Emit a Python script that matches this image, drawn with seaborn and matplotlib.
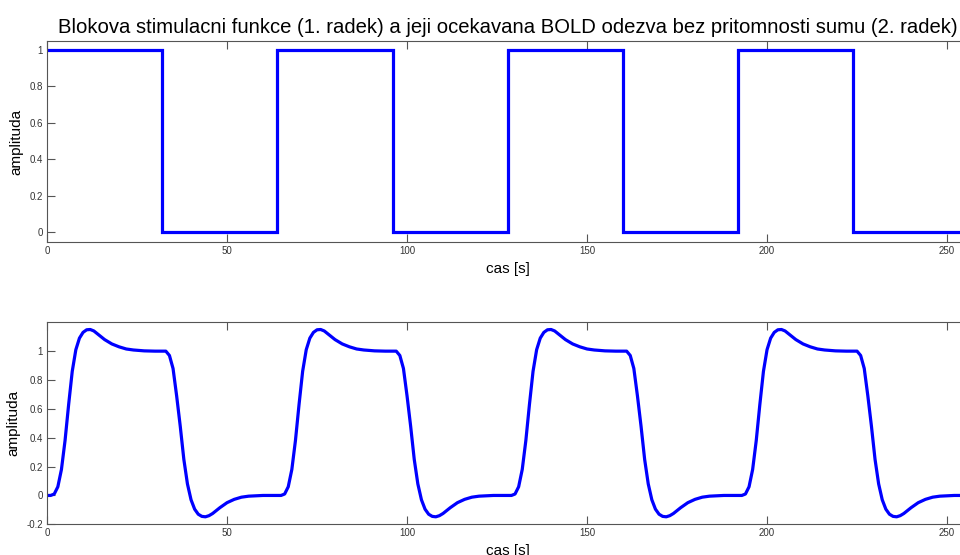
import numpy as np
import pandas as pd
import seaborn as sns
from matplotlib import pyplot as plt
from matplotlib.ticker import FuncFormatter

# block stimulus: level held from each onset time until the next one
block_times = [0, 32, 64, 96, 128, 160, 192, 224, 256]
block_levels = [1, 0, 1, 0, 1, 0, 1, 0, 0]

# expected BOLD response (4 identical cycles of 64 s)
bold_t = [
    0, 1, 2, 3, 4, 5, 6, 7, 8, 9, 10, 11, 12, 13, 14, 15, 16, 18, 20, 22, 24, 27, 30, 33,
    34, 35, 36, 37, 38, 39, 40, 41, 42, 43, 44, 45, 46, 47, 48, 50, 52, 54, 56, 60,
    64, 65, 66, 67, 68, 69, 70, 71, 72, 73, 74, 75, 76, 77, 78, 79, 80, 82, 84, 86, 88, 91, 94, 97,
    98, 99, 100, 101, 102, 103, 104, 105, 106, 107, 108, 109, 110, 111, 112, 114, 116, 118, 120, 124,
    128, 129, 130, 131, 132, 133, 134, 135, 136, 137, 138, 139, 140, 141, 142, 143, 144, 146, 148, 150, 152, 155, 158, 161,
    162, 163, 164, 165, 166, 167, 168, 169, 170, 171, 172, 173, 174, 175, 176, 178, 180, 182, 184, 188,
    192, 193, 194, 195, 196, 197, 198, 199, 200, 201, 202, 203, 204, 205, 206, 207, 208, 210, 212, 214, 216, 219, 222, 225,
    226, 227, 228, 229, 230, 231, 232, 233, 234, 235, 236, 237, 238, 239, 240, 242, 244, 246, 248, 252, 256,
]
bold_y = [
    0.0, 0.0, 0.01, 0.06, 0.18, 0.38, 0.63, 0.86, 1.01, 1.09, 1.13, 1.148, 1.15, 1.14, 1.12, 1.1, 1.08, 1.05, 1.03, 1.015, 1.008, 1.002, 1.0, 1.0,
    0.97, 0.88, 0.69, 0.48, 0.25, 0.08, -0.03, -0.095, -0.13, -0.145, -0.148, -0.14, -0.125, -0.105, -0.085, -0.05, -0.027, -0.012, -0.005, 0.0,
    0.0, 0.0, 0.01, 0.06, 0.18, 0.38, 0.63, 0.86, 1.01, 1.09, 1.13, 1.148, 1.15, 1.14, 1.12, 1.1, 1.08, 1.05, 1.03, 1.015, 1.008, 1.002, 1.0, 1.0,
    0.97, 0.88, 0.69, 0.48, 0.25, 0.08, -0.03, -0.095, -0.13, -0.145, -0.148, -0.14, -0.125, -0.105, -0.085, -0.05, -0.027, -0.012, -0.005, 0.0,
    0.0, 0.0, 0.01, 0.06, 0.18, 0.38, 0.63, 0.86, 1.01, 1.09, 1.13, 1.148, 1.15, 1.14, 1.12, 1.1, 1.08, 1.05, 1.03, 1.015, 1.008, 1.002, 1.0, 1.0,
    0.97, 0.88, 0.69, 0.48, 0.25, 0.08, -0.03, -0.095, -0.13, -0.145, -0.148, -0.14, -0.125, -0.105, -0.085, -0.05, -0.027, -0.012, -0.005, 0.0,
    0.0, 0.0, 0.01, 0.06, 0.18, 0.38, 0.63, 0.86, 1.01, 1.09, 1.13, 1.148, 1.15, 1.14, 1.12, 1.1, 1.08, 1.05, 1.03, 1.015, 1.008, 1.002, 1.0, 1.0,
    0.97, 0.88, 0.69, 0.48, 0.25, 0.08, -0.03, -0.095, -0.13, -0.145, -0.148, -0.14, -0.125, -0.105, -0.085, -0.05, -0.027, -0.012, -0.005, 0.0, 0.0,
]

x_ticks = [0, 50, 100, 150, 200, 250]
top_y_ticks = [0, 0.2, 0.4, 0.6, 0.8, 1]
bottom_y_ticks = [-0.2, 0, 0.2, 0.4, 0.6, 0.8, 1]

title = "Blokova stimulacni funkce (1. radek) a jeji ocekavana BOLD odezva bez pritomnosti sumu (2. radek)"

sns.set_theme(style="ticks")
plt.rcParams["font.family"] = ["Liberation Sans", "DejaVu Sans"]
plt.rcParams["xtick.direction"] = "in"
plt.rcParams["ytick.direction"] = "in"
plt.rcParams["text.color"] = "black"
plt.rcParams["axes.labelcolor"] = "black"

blue = "#0000ff"
fmt = FuncFormatter(lambda v, _: "%g" % v)

fig = plt.figure(figsize=(9.6, 5.55), dpi=100)
# axes run past the right edge, as in the cropped original
ax1 = fig.add_axes([0.049, 0.5634, 0.96, 0.3626])
ax2 = fig.add_axes([0.049, 0.0553, 0.96, 0.364])

block = pd.DataFrame({"t": block_times, "a": block_levels})
sns.lineplot(data=block, x="t", y="a", ax=ax1, color=blue, linewidth=2.3,
             drawstyle="steps-post", solid_joinstyle="miter")
bold = pd.DataFrame({"t": bold_t, "a": bold_y})
sns.lineplot(data=bold, x="t", y="a", ax=ax2, color=blue, linewidth=2.3, sort=False)

ax1.set_ylim(-0.055, 1.047)
ax2.set_ylim(-0.2, 1.2)
ax1.set_yticks(top_y_ticks)
ax2.set_yticks(bottom_y_ticks)
ax1.set_title(title, fontsize=14.6, pad=6, color="black")

for ax in (ax1, ax2):
    ax.set_xlim(0, 256)
    ax.set_xticks(x_ticks)
    ax.xaxis.set_major_formatter(fmt)
    ax.yaxis.set_major_formatter(fmt)
    ax.tick_params(axis="both", labelsize=7, colors="#555555", labelcolor="#333333",
                   length=6, width=0.8, top=True, right=True, pad=3)
    for s in ax.spines.values():
        s.set_color("#555555")
        s.set_linewidth(0.8)
    ax.set_xlabel("cas [s]", fontsize=11, labelpad=4)
    ax.set_ylabel("amplituda", fontsize=11, labelpad=4)

fig.savefig("out.png", dpi=100)
